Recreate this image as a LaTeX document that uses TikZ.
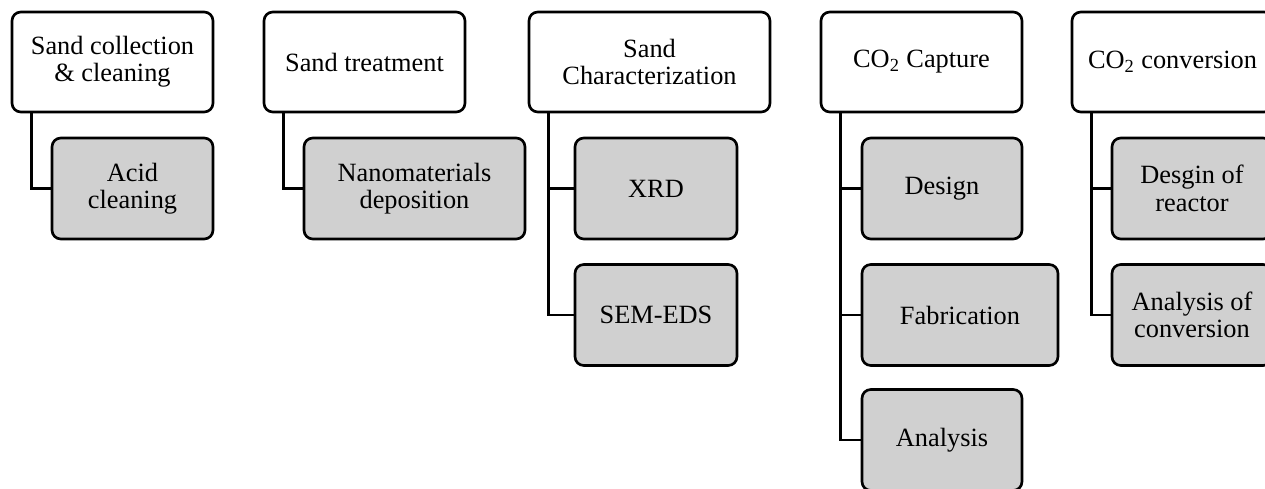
\documentclass[tikz,border=0pt]{standalone}
\usepackage{fontspec}
\setmainfont{Liberation Serif}
\definecolor{subgray}{RGB}{208,208,208}
\tikzset{
  topbox/.style={draw, line width=1.5pt, rounded corners=5pt, fill=white,
    align=center, inner sep=0pt, minimum height=2cm,
    font=\fontsize{15}{15.6}\selectfont},
  subbox/.style={topbox, fill=subgray, minimum height=2.02cm},
  link/.style={line width=1.5pt},
}
\begin{document}
\begin{tikzpicture}[x=0.02cm, y=-0.02cm]
    \def\off{0.42cm}
    \clip (0,0) rectangle (1265,489);
    \node[topbox, minimum width=4.02cm] (collect) at (112.5,62) {Sand collection\\\& cleaning};
    \node[topbox, minimum width=4.02cm] (treat) at (364.5,62) {Sand treatment};
    \node[topbox, minimum width=4.82cm] (charac) at (649.5,62) {Sand\\Characterization};
    \node[topbox, minimum width=4.02cm] (capture) at (921.5,62) {CO\textsubscript{2} Capture};
    \node[topbox, minimum width=4.02cm] (convert) at (1172.5,62) {CO\textsubscript{2} conversion};
    \node[subbox, minimum width=3.22cm] (acid) at (132.5,188.5) {Acid\\cleaning};
    \node[subbox, minimum width=4.42cm] (nano) at (414.5,188.5) {Nanomaterials\\deposition};
    \node[subbox, minimum width=3.24cm] (xrd) at (656,188.5) {XRD};
    \node[subbox, minimum width=3.24cm] (sem) at (656,315) {SEM-EDS};
    \node[subbox, minimum width=3.2cm] (design) at (942,188.5) {Design};
    \node[subbox, minimum width=3.92cm] (fab) at (960,315) {Fabrication};
    \node[subbox, minimum width=3.2cm] (analysis) at (942,440) {Analysis};
    \node[subbox, minimum width=3.2cm] (reactor) at (1192,188.5) {Desgin of\\reactor};
    \node[subbox, minimum width=3.2cm] (convana) at (1192,315) {Analysis of\\conversion};
    \draw[link] ([xshift=\off]collect.south west) |- (acid.west);
    \draw[link] ([xshift=\off]treat.south west) |- (nano.west);
    \foreach \c in {xrd, sem}
        \draw[link] ([xshift=\off]charac.south west) |- (\c.west);
    \foreach \c in {design, fab, analysis}
        \draw[link] ([xshift=\off]capture.south west) |- (\c.west);
    \foreach \c in {reactor, convana}
        \draw[link] ([xshift=\off]convert.south west) |- (\c.west);
\end{tikzpicture}
\end{document}
